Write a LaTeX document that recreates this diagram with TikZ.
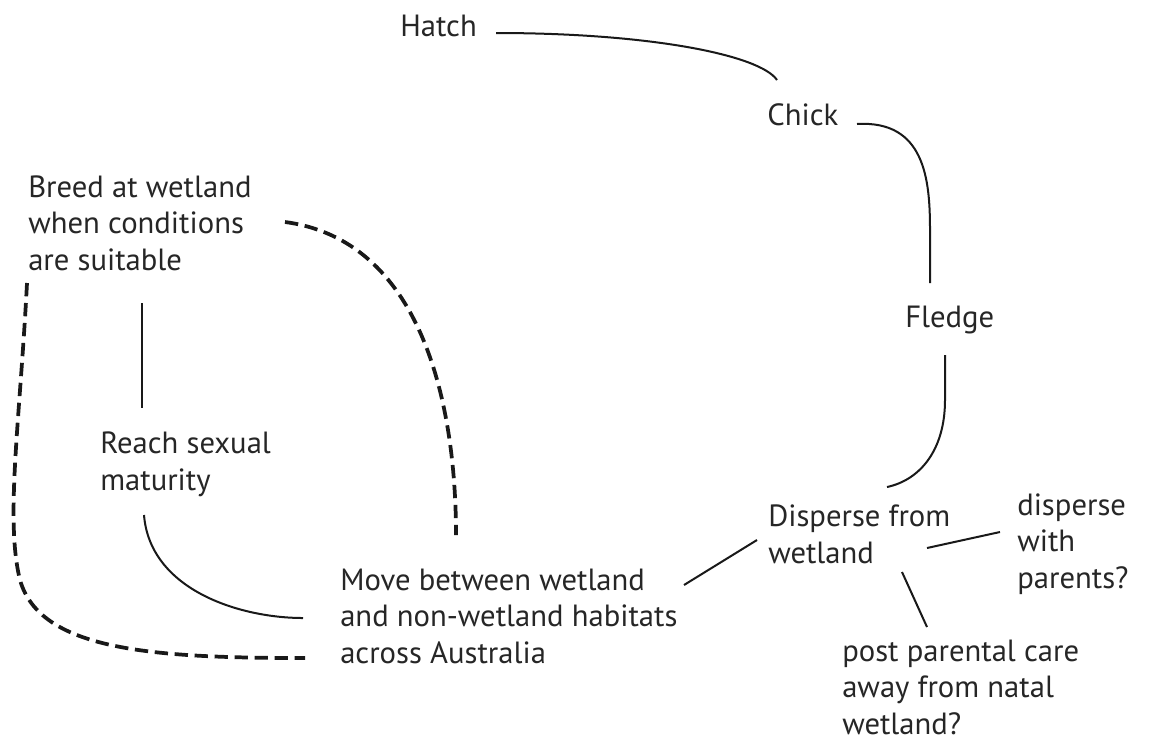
\documentclass[tikz,border=0pt]{standalone}
\usepackage{fontspec}
\setmainfont{PT Sans}
\begin{document}
\begin{tikzpicture}[x=0.75pt,y=-0.75pt,
  lbl/.style={anchor=base west,inner sep=0pt,align=left,font=\fontsize{23pt}{27.3pt}\selectfont,text=black!85},
  solidline/.style={line width=1.5pt,black!90},
  dashline/.style={line width=2.8pt,black!90,dash pattern=on 10pt off 5pt}]
\useasboundingbox (0,0) rectangle (1152,744);
\node[lbl] (hatch) at (400,36) {Hatch};
\node[lbl] (chick) at (767,125) {Chick};
\node[lbl] (fledge) at (905,327) {Fledge};
\node[lbl] (breed) at (28,270) {Breed at wetland\\when conditions\\are suitable};
\node[lbl] (reach) at (100,490) {Reach sexual\\maturity};
\node[lbl] (move) at (340,663) {Move between wetland\\and non-wetland habitats\\across Australia};
\node[lbl] (disp) at (768,563) {Disperse from\\wetland};
\node[lbl] (with) at (1017,588) {disperse\\with\\parents?};
\node[lbl] (post) at (842,734) {post parental care\\away from natal\\wetland?};
% connector end points
\coordinate (h1) at (496,33);
\coordinate (c1) at (777,80);
\coordinate (c2) at (857,124);
\coordinate (f1) at (930,283);
\coordinate (f2) at (945,355);
\coordinate (d1) at (887,487);
\coordinate (d2) at (757,540);
\coordinate (m1) at (684,585);
\coordinate (d3) at (927,548);
\coordinate (w1) at (1000,532);
\coordinate (d4) at (902,572);
\coordinate (p1) at (927,627);
\coordinate (b1) at (142,303);
\coordinate (r1) at (142,408);
\coordinate (r2) at (144,515);
\coordinate (m2) at (303,618);
\coordinate (b2) at (285,222);
\coordinate (m3) at (456,535);
\coordinate (b3) at (27,283);
\coordinate (m4) at (305,658);
\draw[solidline] (h1) .. controls (650,33) and (760,55) .. (c1);
\draw[solidline] (c2) .. controls (925,120) and (930,180) .. (930,230) -- (f1);
\draw[solidline] (f2) -- (945,400) .. controls (945,450) and (920,480) .. (d1);
\draw[solidline] (d2) -- (m1);
\draw[solidline] (d3) -- (w1);
\draw[solidline] (d4) -- (p1);
\draw[solidline] (b1) -- (r1);
\draw[solidline] (r2) .. controls (150,590) and (240,618) .. (m2);
\draw[dashline] (b2) .. controls (420,240) and (456,400) .. (m3);
\draw[dashline] (b3) .. controls (20,420) and (5,520) .. (20,580) .. controls (40,650) and (150,658) .. (m4);
\end{tikzpicture}
\end{document}
